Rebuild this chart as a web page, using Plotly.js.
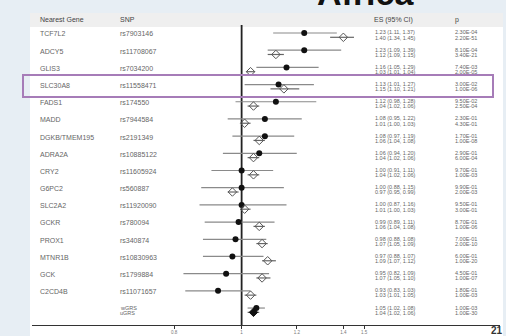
<!DOCTYPE html>
<html>
<head>
<meta charset="utf-8">
<script src="https://cdn.plot.ly/plotly-3.0.1.min.js"></script>
<style>html,body{margin:0;padding:0;background:#e7eef4;}#chart{width:506px;height:336px;}</style>
</head>
<body>
<div id="chart"></div>
<script>
// ---- data ----
const genes = ["TCF7L2","ADCY5","GLIS3","SLC30A8","FADS1","MADD","DGKB/TMEM195","ADRA2A","CRY2","G6PC2","SLC2A2","GCKR","PROX1","MTNR1B","GCK","C2CD4B",""];
const snps = ["rs7903146","rs11708067","rs7034200","rs11558471","rs174550","rs7944584","rs2191349","rs10885122","rs11605924","rs560887","rs11920090","rs780094","rs340874","rs10830963","rs1799884","rs11071657",""];
const summaryLabels = ["wGRS","uGRS"];
// filled circle series
const es1 = [1.23,1.23,1.16,1.13,1.12,1.08,1.08,1.06,1.00,1.00,1.00,0.99,0.98,0.97,0.95,0.925,1.05];
const lo1 = [1.11,1.09,1.05,1.01,0.98,0.955,0.97,0.94,0.905,0.875,0.87,0.885,0.88,0.88,0.825,0.83,1.02];
const hi1 = [1.37,1.39,1.29,1.27,1.28,1.22,1.19,1.20,1.11,1.15,1.16,1.115,1.085,1.075,1.095,1.03,1.08];
// open diamond series
const es2 = [1.40,1.12,1.03,1.15,1.04,1.01,1.06,1.04,1.04,0.97,1.01,1.06,1.07,1.09,1.07,1.03,1.04];
const lo2 = [1.34,1.09,1.015,1.10,1.02,1.00,1.04,1.02,1.02,0.955,1.00,1.04,1.05,1.07,1.05,1.01,1.02];
const hi2 = [1.45,1.15,1.045,1.21,1.06,1.03,1.08,1.06,1.06,0.99,1.03,1.08,1.09,1.12,1.10,1.05,1.06];
const p1 = ["2.30E-04","8.10E-04","7.40E-03","3.00E-02","9.50E-02","2.30E-01","1.70E-01","2.90E-01","9.70E-01","9.90E-01","9.50E-01","8.70E-01","7.00E-01","6.00E-01","4.50E-01","1.80E-01","1.00E-03"];
const p2 = ["2.20E-51","3.40E-21","2.00E-05","1.00E-06","2.50E-04","4.30E-01","1.00E-08","6.00E-04","1.00E-03","2.00E-03","3.00E-01","1.00E-06","2.00E-10","1.00E-20","1.00E-07","1.00E-03","1.00E-30"];
const tickVals = [0.8,1,1.2,1.4,1.5];
const tickText = ["0.8","1","1.2","1.4","1.5"];

// ---- geometry helpers (pixel -> paper) ----
const W=506,H=336,ML=32,MR=6,MT=12,MB=11;
const PW=W-ML-MR, PH=H-MT-MB;
const px=(x)=>(x-ML)/PW;
const py=(y)=>(H-MB-y)/PH;
const ROW0=33, ROWH=17.19;
const yTop=(MT-ROW0)/ROWH, yBot=(H-MB-ROW0)/ROWH;

const n = es1.length;
const rows = es1.map((_,i)=>i);
const rows2 = es2.map((_,i)=>i+0.25);
const fmt=(v)=>v.toFixed(2);

const traces = [];
// null line at 1
traces.push({x:[1,1],y:[-0.47,yBot],mode:'lines',line:{color:'#222',width:1.8},hoverinfo:'skip',showlegend:false,cliponaxis:false});
// filled circles with CI
traces.push({
  x:es1, y:rows, mode:'markers', type:'scatter',
  marker:{symbol:'circle',size:6,color:'#111'},
  error_x:{type:'data',symmetric:false,array:hi1.map((h,i)=>h-es1[i]),arrayminus:lo1.map((l,i)=>es1[i]-l),color:'#8a8a8a',thickness:1.2,width:0},
  showlegend:false
});
// open diamonds with CI
const last = n-1;
traces.push({
  x:es2, y:rows2, mode:'markers', type:'scatter',
  marker:{symbol:es2.map((_,i)=> i===last ? 'diamond' : 'diamond-open'),size:6.5,color:es2.map((_,i)=>i===last?'#111':'#555'),line:{width:1,color:es2.map((_,i)=>i===last?'#111':'#555')}},
  error_x:{type:'data',symmetric:false,array:hi2.map((h,i)=>h-es2[i]),arrayminus:lo2.map((l,i)=>es2[i]-l),color:'#666',thickness:1.2,width:0},
  showlegend:false
});

const ann = [];
const txtFont = {family:'Liberation Sans, Arial, sans-serif',size:7,color:'#666'};
const smallFont = {family:'Liberation Sans, Arial, sans-serif',size:5.5,color:'#666'};
const hdrFont = {family:'Liberation Sans, Arial, sans-serif',size:7,color:'#444'};
function A(x,y,text,font){ann.push({xref:'paper',yref:'y',x:px(x),y:y,text:text,showarrow:false,xanchor:'left',yanchor:'middle',font:font});}
// headers
A(38,-0.76,'Nearest Gene',hdrFont);
A(118,-0.76,'SNP',hdrFont);
A(372,-0.76,'ES (95% CI)',hdrFont);
A(453,-0.76,'p',hdrFont);
for(let i=0;i<n;i++){
  if(genes[i]) A(38,i+0.05,genes[i],txtFont);
  if(snps[i]) A(118,i+0.05,snps[i],txtFont);
  A(373,i-0.03,`${fmt(es1[i])} (${fmt(lo1[i])}, ${fmt(hi1[i])})`,smallFont);
  A(373,i+0.27,`${fmt(es2[i])} (${fmt(lo2[i])}, ${fmt(hi2[i])})`,smallFont);
  A(453,i-0.03,p1[i],smallFont);
  A(453,i+0.27,p2[i],smallFont);
}
A(118,last-0.02,summaryLabels[0],smallFont);
A(118,last+0.27,summaryLabels[1],smallFont);
// slide number
ann.push({xref:'paper',yref:'paper',x:px(497),y:py(330),text:'<b>21</b>',showarrow:false,xanchor:'center',yanchor:'middle',font:{family:'Liberation Sans, Arial, sans-serif',size:10,color:'#333'}});
// big slide title, clipped at top
ann.push({xref:'paper',yref:'paper',x:px(365),y:py(14),text:'<b>Africa</b>',showarrow:false,xanchor:'center',yanchor:'bottom',font:{family:'Liberation Sans, Arial, sans-serif',size:34,color:'#111'}});

const shapes = [
  {type:'rect',xref:'paper',yref:'paper',x0:px(30),x1:px(503),y0:py(336),y1:py(13),fillcolor:'#ffffff',line:{width:0},layer:'below'},
  {type:'rect',xref:'paper',yref:'paper',x0:px(30),x1:px(503),y0:py(27),y1:py(13),fillcolor:'#efefef',line:{width:0},layer:'below'},
  {type:'rect',xref:'paper',yref:'paper',x0:px(23),x1:px(493),y0:py(97),y1:py(75),line:{color:'#a67cb8',width:2},fillcolor:'rgba(0,0,0,0)'}
];

const layout = {
  width:W,height:H,
  margin:{l:ML,r:MR,t:MT,b:MB,pad:0},
  paper_bgcolor:'#e7eef4',
  plot_bgcolor:'rgba(0,0,0,0)',
  showlegend:false,
  xaxis:{type:'log',range:[Math.log10(0.5),Math.log10(2.35)],showgrid:false,zeroline:false,showline:true,linecolor:'#333',linewidth:1,
    tickmode:'array',tickvals:tickVals,ticktext:tickText,ticks:'outside',ticklen:3,tickcolor:'#333',
    tickfont:{family:'Liberation Sans, Arial, sans-serif',size:4.5,color:'#777'},fixedrange:true},
  yaxis:{range:[yBot,yTop],visible:false,showgrid:false,zeroline:false,fixedrange:true},
  annotations:ann,
  shapes:shapes
};
Plotly.newPlot('chart',traces,layout,{displayModeBar:false,staticPlot:true});
</script>
</body>
</html>
